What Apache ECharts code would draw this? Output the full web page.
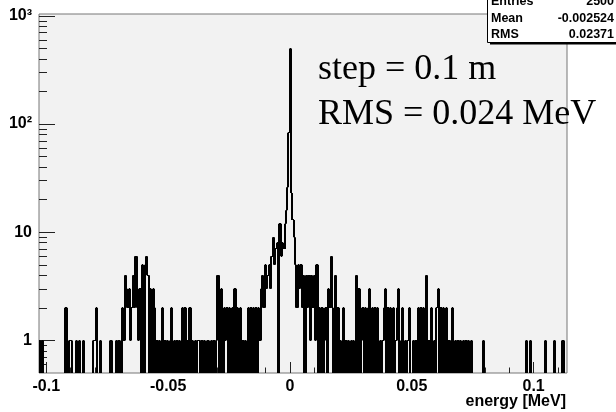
<!DOCTYPE html>
<html><head><meta charset="utf-8">
<script src="https://cdn.jsdelivr.net/npm/echarts@6/dist/echarts.min.js"></script>
<style>html,body{margin:0;padding:0;background:#fff}#c{width:616px;height:412px}</style>
</head><body><div id="c"></div>
<script>
// x range of the histogram (MeV)
const xMin = -0.103;
const xMax = 0.1137;
// y range (log axis)
const yMin = 0.5;
const yMax = 1040;
// bin contents, 400 equal bins from xMin to xMax
const counts = [
 1,0,1,0,0,0,0,0,0,0,0,0,0,0,0,0,0,0,0,0,
 2,0,0,1,1,0,0,0,1,0,1,0,0,1,0,0,0,0,0,0,
 0,1,1,2,0,0,1,0,0,0,0,0,0,0,1,0,0,0,1,0,
 1,0,0,2,1,4,3,2,3,1,2,4,2,6,2,1,3,0,5,0,
 5,6,4,0,3,0,3,2,0,1,0,1,0,2,0,1,0,1,0,1,
 2,0,1,0,1,0,1,0,2,0,2,0,1,0,2,0,1,0,1,0,
 1,1,0,1,0,1,0,1,1,0,1,0,1,0,1,4,0,2,3,0,
 2,1,2,0,2,0,2,0,3,0,2,0,2,0,1,0,1,0,2,0,
 2,0,2,0,2,0,2,1,3,4,2,5,3,4,5,3,6,9,5,7,
 8,0,12,6,8,7,12,16,26,83,500,23,13,9,5,2,5,3,5,2,
 4,0,4,2,4,1,4,2,4,1,5,0,2,0,2,0,1,2,0,3,
 2,6,2,0,4,0,2,0,1,0,2,0,1,0,1,0,1,0,1,0,
 4,0,3,0,1,2,0,2,0,2,3,0,2,0,2,0,2,0,1,0,
 1,2,3,0,2,0,2,0,2,0,1,2,3,0,1,2,0,1,0,1,
 2,0,0,1,0,1,0,2,0,2,0,2,0,4,0,1,0,2,0,1,
 0,2,3,0,2,0,2,0,2,0,1,0,1,2,0,1,0,1,0,1,
 0,1,0,1,0,1,0,1,0,0,0,0,0,0,0,0,1,0,0,0,
 0,0,0,0,0,0,0,0,0,0,0,0,0,0,0,0,0,0,0,0,
 0,0,0,0,0,0,0,0,0,1,0,0,1,0,0,0,0,0,0,0,
 0,0,0,1,0,0,0,0,0,0,1,0,0,0,0,0,1,1,0,0
];
// axis ticks
const xMajorTicks = [-0.1, -0.05, 0, 0.05, 0.1];
const xMinorTicks = [-0.09,-0.08,-0.07,-0.06,-0.04,-0.03,-0.02,-0.01,0.01,0.02,0.03,0.04,0.06,0.07,0.08,0.09,0.11];
const yMajorTicks = [1, 10, 100, 1000];
const yMajorLabels = ['1', '10', '10²', '10³'];
const yMinorTicks = [0.6,0.7,0.8,0.9,2,3,4,5,6,7,8,9,20,30,40,50,60,70,80,90,200,300,400,500,600,700,800,900];
// texts
const xTitle = 'energy [MeV]';
const statNames = ['Entries', 'Mean', 'RMS'];
const statValues = ['2500', '-0.002524', '0.02371'];
const noteLines = ['step = 0.1 m', 'RMS = 0.024 MeV'];

const binW = (xMax - xMin) / counts.length;
const histData = counts.map((c, i) => [xMin + i * binW, xMin + (i + 1) * binW, c, i > 0 ? counts[i - 1] : 0, i === counts.length - 1 ? 1 : 0]);

const sans = 'Liberation Sans';
const chart = echarts.init(document.getElementById('c'), null, {renderer: 'canvas'});

function xAxisBase(extra) {
  return Object.assign({
    type: 'value', min: xMin, max: xMax, position: 'bottom',
    splitLine: {show: false}, axisLine: {show: false, onZero: false}
  }, extra);
}
function yAxisBase(extra) {
  return Object.assign({
    type: 'log', logBase: 10, min: yMin, max: yMax, position: 'left', offset: 0,
    splitLine: {show: false}, axisLine: {show: false, onZero: false}
  }, extra);
}
const snap = v => Math.floor(v) + 0.5;
const snapV = v => Math.round(v);

const option = {
  animation: false,
  backgroundColor: '#ffffff',
  grid: {left: 39, right: 49, top: 14, bottom: 39, show: true, backgroundColor: '#f2f2f2',
         borderColor: '#777777', borderWidth: 1, containLabel: false, outerBoundsMode: 'none'},
  xAxis: [
    xAxisBase({
      axisTick: {show: true, inside: true, length: 11, customValues: xMajorTicks, lineStyle: {color: '#222', width: 1}},
      axisLabel: {show: true, customValues: xMajorTicks, formatter: v => String(v), margin: 6,
                  fontFamily: sans, fontWeight: 'bold', fontSize: 16, color: '#000'}
    }),
    xAxisBase({
      axisTick: {show: true, inside: true, length: 5.5, customValues: xMinorTicks, lineStyle: {color: '#222', width: 1}},
      axisLabel: {show: false}
    })
  ],
  yAxis: [
    yAxisBase({
      axisTick: {show: true, inside: true, length: 16, customValues: yMajorTicks, lineStyle: {color: '#222', width: 1}},
      axisLabel: {show: true, customValues: yMajorTicks, margin: 7,
                  formatter: v => { const k = yMajorTicks.findIndex(t => Math.abs(t - v) / t < 1e-6); return k >= 0 ? yMajorLabels[k] : ''; },
                  fontFamily: sans, fontWeight: 'bold', fontSize: 16, color: '#000'}
    }),
    yAxisBase({
      axisTick: {show: true, inside: true, length: 8, customValues: yMinorTicks, lineStyle: {color: '#222', width: 1}},
      axisLabel: {show: false}
    })
  ],
  series: [{
    type: 'custom',
    coordinateSystem: 'cartesian2d',
    xAxisIndex: 0, yAxisIndex: 0,
    data: histData,
    encode: {x: [0, 1], y: 2},
    clip: true,
    silent: true,
    renderItem: function (params, api) {
      const x0 = api.value(0), x1 = api.value(1), c = api.value(2), p = api.value(3), last = api.value(4);
      if (c <= 0 && p <= 0) return null;
      const a = api.coord([x0, p > 0 ? p : yMin]);
      const b = api.coord([x0, c > 0 ? c : yMin]);
      const children = [];
      if (p !== c) {
        children.push({type: 'line', shape: {x1: snapV(a[0]), y1: a[1], x2: snapV(b[0]), y2: b[1]},
                       style: {stroke: '#000', lineWidth: 2}});
      }
      if (c > 0) {
        const d = api.coord([x1, c]);
        children.push({type: 'line', shape: {x1: snapV(b[0]), y1: snap(b[1]), x2: snapV(d[0]), y2: snap(d[1])},
                       style: {stroke: '#000', lineWidth: 1}});
        if (last) {
          const e = api.coord([x1, yMin]);
          children.push({type: 'line', shape: {x1: snapV(d[0]), y1: d[1], x2: snapV(e[0]), y2: e[1]},
                         style: {stroke: '#000', lineWidth: 2}});
        }
      }
      return {type: 'group', children: children};
    }
  }],
  graphic: [
    {type: 'text', x: 566, y: 402, z: 10, style: {text: xTitle, fontFamily: sans, fontWeight: 'bold', fontSize: 16, fill: '#000', align: 'right', verticalAlign: 'middle'}},
    {type: 'text', x: 318, y: 70, z: 10, style: {text: noteLines[0], fontFamily: 'Liberation Serif', fontSize: 36, fill: '#000', align: 'left', verticalAlign: 'middle'}},
    {type: 'text', x: 318, y: 115, z: 10, style: {text: noteLines[1], fontFamily: 'Liberation Serif', fontSize: 36, fill: '#000', align: 'left', verticalAlign: 'middle'}},
    {type: 'rect', z: 20, shape: {x: 490, y: -20, width: 200, height: 64.5}, style: {fill: '#000'}},
    {type: 'rect', z: 21, shape: {x: 487.5, y: -20, width: 200, height: 62.5}, style: {fill: '#fff', stroke: '#000', lineWidth: 1}},
    {type: 'text', z: 22, x: 491, y: 2, style: {text: statNames[0], fontFamily: sans, fontWeight: 'bold', fontSize: 12.5, fill: '#000', align: 'left', verticalAlign: 'middle'}},
    {type: 'text', z: 22, x: 614, y: 2, style: {text: statValues[0], fontFamily: sans, fontWeight: 'bold', fontSize: 12.5, fill: '#000', align: 'right', verticalAlign: 'middle'}},
    {type: 'text', z: 22, x: 491, y: 18.3, style: {text: statNames[1], fontFamily: sans, fontWeight: 'bold', fontSize: 12.5, fill: '#000', align: 'left', verticalAlign: 'middle'}},
    {type: 'text', z: 22, x: 614, y: 18.3, style: {text: statValues[1], fontFamily: sans, fontWeight: 'bold', fontSize: 12.5, fill: '#000', align: 'right', verticalAlign: 'middle'}},
    {type: 'text', z: 22, x: 491, y: 34.3, style: {text: statNames[2], fontFamily: sans, fontWeight: 'bold', fontSize: 12.5, fill: '#000', align: 'left', verticalAlign: 'middle'}},
    {type: 'text', z: 22, x: 614, y: 34.3, style: {text: statValues[2], fontFamily: sans, fontWeight: 'bold', fontSize: 12.5, fill: '#000', align: 'right', verticalAlign: 'middle'}}
  ]
};
chart.setOption(option);
</script>
</body></html>
